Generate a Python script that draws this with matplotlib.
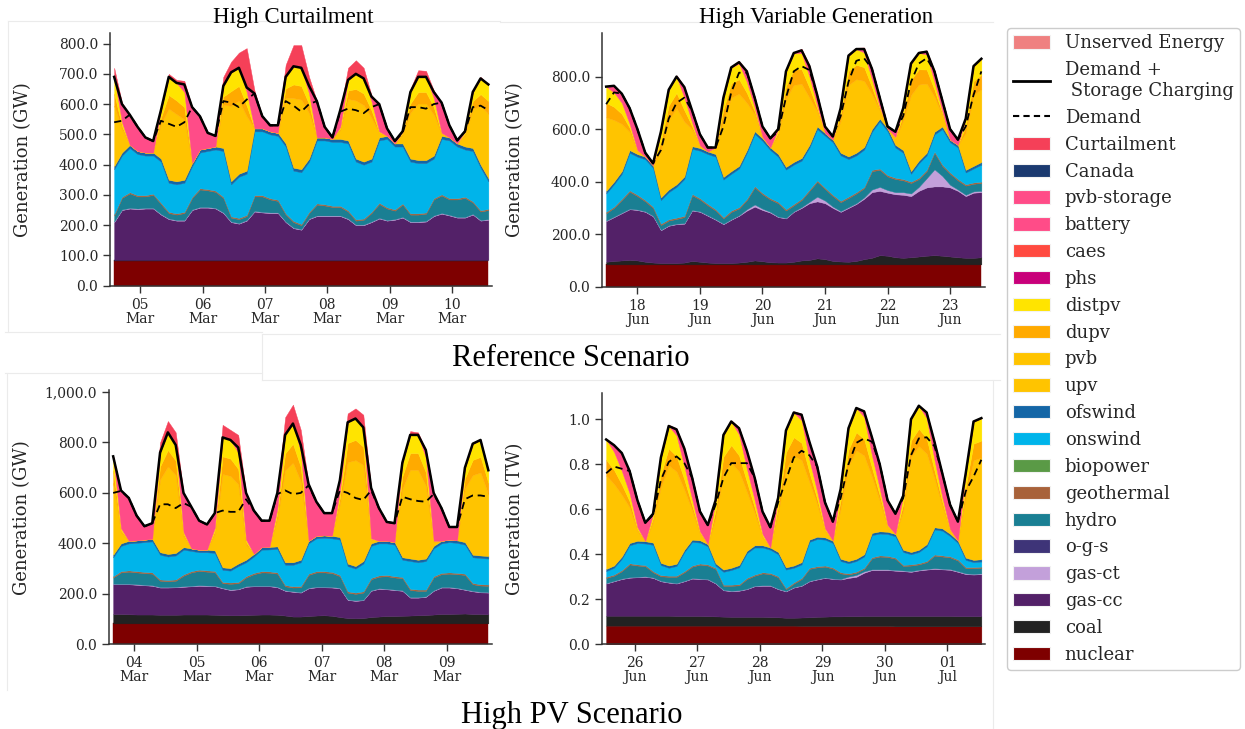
import numpy as np
import pandas as pd
import matplotlib
matplotlib.use('Agg')
import matplotlib.pyplot as plt
import matplotlib.dates as mdates
from matplotlib.patches import Patch
from matplotlib.lines import Line2D
from matplotlib.ticker import FuncFormatter, FixedLocator

# ---------------- data (GW, 3-hourly) ----------------
# Panel 1: Reference Scenario - High Curtailment (starts 04 Mar 14:00)
start_p1 = '2050-03-04 14:00'
nuclear_p1 = [83,83,83,83,83,83,83,83,83,83,83,83,83,83,83,83,83,83,83,83,83,83,83,83,83,83,83,83,83,83,83,83,83,83,83,83,83,83,83,83,83,83,83,83,83,83,83,83,83]
coal_p1 = [2,2,2,2,2,2,2,2,2,2,2,2,2,2,2,2,2,2,2,2,2,2,2,2,2,2,2,2,2,2,2,2,2,2,2,2,2,2,2,2,2,2,2,2,2,2,2,2,2]
gascc_p1 = [125,165,170,168,170,170,150,135,130,130,165,173,173,170,155,125,120,130,160,157,155,155,125,105,100,135,145,145,145,145,135,115,115,125,137,130,133,140,125,125,127,145,153,147,140,140,150,130,133]
gasct_p1 = [2,2,2,2,2,2,2,2,2,2,2,2,2,2,2,2,2,2,2,2,2,2,2,2,2,2,2,2,2,2,2,2,2,2,2,2,2,2,2,2,2,2,2,2,2,2,2,2,2]
hydro_p1 = [20,38,48,40,38,43,33,18,18,23,38,58,55,53,48,13,13,13,48,51,43,38,23,18,13,18,36,33,28,28,23,13,16,28,46,38,28,41,23,23,24,53,58,51,58,63,38,28,30]
geo_p1 = [4,4,4,4,4,4,4,4,4,4,4,4,4,4,4,4,4,4,4,4,4,4,4,4,4,4,4,4,4,4,4,4,4,4,4,4,4,4,4,4,4,4,4,4,4,4,4,4,4]
onswind_p1 = [149,136,146,136,131,126,136,96,96,96,101,118,126,136,151,106,136,136,211,211,211,211,221,166,171,166,208,211,211,211,221,191,178,166,206,226,208,188,171,166,163,131,183,191,171,156,166,141,91]
ofswind_p1 = [10,10,10,10,10,10,10,10,10,10,10,10,10,10,10,10,10,10,10,10,10,10,10,10,10,10,10,10,10,10,10,10,10,10,10,10,10,10,10,10,10,10,10,10,10,10,10,10,10]
upv_p1 = [200,78,0,0,0,0,115,235,222,200,0,0,0,0,142,250,242,180,0,0,0,0,152,230,230,150,0,0,0,30,137,192,187,135,15,0,0,30,152,187,187,135,7,0,0,37,130,193,213]
dupv_p1 = [40,10,0,0,0,0,20,45,45,40,0,0,0,0,28,48,48,35,0,0,0,0,30,45,45,30,0,0,0,5,28,38,38,25,2,0,0,5,30,38,38,25,1,0,0,6,25,40,42]
distpv_p1 = [55,12,0,0,0,0,25,60,58,50,0,0,0,0,35,62,60,45,0,0,0,0,38,60,60,35,0,0,0,5,35,50,50,30,3,0,0,5,38,50,50,30,2,0,0,7,30,52,55]
battery_p1 = [0,60,100,80,50,38,0,0,0,25,185,110,50,35,0,0,0,15,115,40,20,25,0,0,0,25,120,35,5,55,0,0,0,15,90,25,8,0,0,0,0,20,100,40,10,0,0,0,0]
curt_p1 = [30,5,0,0,0,0,0,10,10,12,0,0,0,0,30,35,50,130,10,0,0,0,40,70,75,30,0,0,0,0,40,45,35,5,0,0,0,0,10,22,20,5,0,0,0,0,0,5,0]
demstor_p1 = [690,600,565,525,490,478,580,690,670,665,590,560,505,495,660,705,720,655,635,560,530,530,690,725,720,660,610,525,490,580,680,700,685,625,600,520,478,510,640,690,690,640,605,530,480,510,640,685,665]
demand_p1 = [540,545,565,525,490,478,545,535,525,540,590,560,505,495,610,605,590,615,635,560,530,530,610,595,575,600,610,525,490,575,585,580,570,590,600,520,478,505,590,590,585,600,605,530,480,510,590,595,580]

# Panel 2: Reference Scenario - High Variable Generation (starts 17 Jun 12:00)
start_p2 = '2050-06-17 12:00'
nuclear_p2 = [85,85,85,85,85,85,85,85,85,85,85,85,85,85,85,85,85,85,85,85,85,85,85,85,85,85,85,85,85,85,85,85,85,85,85,85,85,85,85,85,85,85,85,85,85,85,85,85,85]
coal_p2 = [10,13,15,17,15,10,7,5,5,5,7,13,10,7,5,5,5,7,10,15,12,8,7,7,10,15,17,23,20,13,11,10,13,20,25,35,33,27,25,27,30,33,35,33,30,27,25,25,27]
gascc_p2 = [155,167,180,193,192,190,176,125,142,148,148,192,190,178,165,148,165,178,195,205,195,189,173,168,190,200,216,217,213,202,189,205,217,230,250,245,240,240,240,233,250,260,262,264,263,253,235,248,248]
gasct_p2 = [2,2,2,2,2,2,2,2,2,2,2,2,2,2,2,2,2,2,5,8,5,3,2,2,2,3,5,18,10,5,3,3,3,5,10,15,10,8,10,10,15,35,65,40,10,5,5,5,5]
hydro_p2 = [28,33,48,65,51,38,30,18,18,18,23,56,45,38,33,20,28,26,35,65,55,47,51,28,23,27,42,57,44,40,34,35,37,35,70,65,52,50,45,40,30,27,63,38,42,35,35,29,30]
geo_p2 = [5,5,5,5,5,5,5,5,5,5,5,5,5,5,5,5,5,5,5,5,5,5,5,5,5,5,5,5,5,5,5,5,5,5,5,5,5,5,5,5,5,5,5,5,5,5,5,5,5]
onswind_p2 = [70,85,95,143,145,155,147,90,103,117,140,172,181,190,200,143,140,147,175,199,198,183,172,151,150,145,160,195,198,200,173,143,140,142,145,180,167,115,100,30,55,55,65,135,115,120,45,53,65]
ofswind_p2 = [10,10,10,10,10,10,10,10,10,10,10,10,10,10,10,10,10,10,10,10,10,10,10,10,10,10,10,10,10,10,10,10,10,10,10,10,10,10,10,10,10,10,10,10,10,10,10,10,10]
upv_p2 = [280,235,180,70,11,0,0,180,265,290,208,64,8,0,19,215,280,275,180,64,3,0,70,259,294,282,180,57,0,0,121,272,280,252,133,32,0,22,114,290,290,264,133,43,0,0,140,270,278]
dupv_p2 = [55,50,38,15,2,0,0,35,55,58,44,12,1,0,3,42,55,55,38,12,1,0,12,50,58,56,38,11,0,0,24,54,55,52,27,6,0,4,22,58,58,53,27,8,0,0,27,53,55]
distpv_p2 = [62,55,42,15,2,0,0,35,60,62,48,14,1,0,3,45,60,60,42,14,1,0,13,55,63,62,42,12,0,0,25,58,60,56,30,7,0,4,24,62,62,58,30,9,0,0,28,57,60]
battery_p2 = [0,25,35,60,80,15,8,0,0,0,40,45,42,15,0,0,0,5,40,38,40,35,0,0,0,10,40,40,25,12,0,0,0,13,40,35,8,20,0,0,0,10,40,40,40,20,0,0,0]
curt_p2 = [3,3,0,0,0,0,0,0,2,5,3,0,0,0,0,0,3,5,3,0,0,0,0,0,3,6,3,0,0,0,0,2,5,6,3,0,0,0,0,2,5,5,3,0,0,0,0,2,3]
demstor_p2 = [762,765,735,680,600,510,470,590,750,800,760,670,580,530,530,720,835,855,820,720,610,565,600,820,890,900,840,730,610,572,680,880,905,905,830,720,610,590,680,850,890,895,820,710,600,560,640,840,868]
demand_p2 = [695,740,735,680,600,510,470,520,640,700,720,670,580,530,530,610,740,815,815,720,610,565,590,720,820,840,825,730,610,572,650,780,860,870,830,720,610,590,650,780,850,870,820,710,600,560,610,730,820]

# Panel 3: High PV Scenario - High Curtailment (starts 03 Mar 16:00)
start_p3 = '2050-03-03 16:00'
nuclear_p3 = [83,83,83,83,83,83,83,83,83,83,83,83,83,83,83,83,83,83,83,83,83,83,83,83,83,83,83,83,83,83,83,83,83,83,83,83,83,83,83,83,83,83,83,83,83,83,83,83,83]
coal_p3 = [37,37,36,35,35,35,34,34,34,35,35,35,35,34,33,32,32,33,34,35,35,34,31,27,27,29,31,32,30,25,21,20,21,25,27,29,29,30,31,32,33,35,37,37,38,39,37,37,36]
gascc_p3 = [118,118,119,118,116,114,108,108,109,110,112,114,113,113,106,100,103,112,113,112,112,109,98,98,95,110,112,111,112,114,72,69,71,104,110,106,103,99,71,70,72,94,105,105,101,94,90,86,86]
gasct_p3 = [2,2,2,2,2,2,2,2,2,2,2,2,2,2,2,2,2,2,2,2,2,2,2,2,2,2,2,2,2,2,2,2,2,2,2,2,2,2,2,2,2,2,2,2,2,2,2,2,2]
hydro_p3 = [25,45,48,47,46,46,25,23,24,42,53,57,55,54,18,23,22,35,46,53,52,52,16,15,19,51,57,57,55,46,27,26,28,44,46,50,48,48,28,25,22,51,51,53,54,57,26,25,25]
geo_p3 = [5,5,5,5,5,5,5,5,5,5,5,5,5,5,5,5,5,5,5,5,5,5,5,5,5,5,5,5,5,5,5,5,5,5,5,5,5,5,5,5,5,5,5,5,5,5,5,5,5]
onswind_p3 = [75,100,107,112,118,123,98,93,95,98,80,69,72,71,48,47,63,55,65,85,87,93,80,85,94,120,130,132,133,140,100,95,110,127,127,125,125,68,110,108,113,110,117,120,119,115,102,104,103]
ofswind_p3 = [10,10,10,10,10,10,10,10,10,10,10,10,10,10,10,10,10,10,10,10,10,10,10,10,10,10,10,10,10,10,10,10,10,10,10,10,10,10,10,10,10,10,10,10,10,10,10,10,10]
upv_p3 = [285,45,0,0,0,0,288,347,308,44,0,0,0,66,370,365,315,60,0,0,0,110,364,395,310,0,0,0,0,131,402,420,381,14,0,0,0,271,352,356,288,14,0,0,0,213,316,329,244]
dupv_p3 = [50,7,0,0,0,0,52,65,58,8,0,0,0,12,70,69,60,10,0,0,0,20,68,75,58,0,0,0,0,24,76,80,72,3,0,0,0,50,66,67,54,3,0,0,0,40,60,62,46]
distpv_p3 = [55,8,0,0,0,0,55,70,62,8,0,0,0,12,75,74,65,10,0,0,0,20,73,80,62,0,0,0,0,25,82,85,77,3,0,0,0,54,72,72,58,3,0,0,0,42,64,67,50]
battery_p3 = [0,150,170,98,53,62,0,0,0,155,165,115,100,58,0,0,20,185,172,105,104,62,0,0,25,225,135,88,90,45,0,0,0,200,130,75,75,0,0,0,30,190,130,50,53,0,0,0,0]
curt_p3 = [0,0,0,0,0,0,40,45,50,0,0,0,0,0,50,40,50,0,0,0,0,0,70,75,60,0,0,0,0,0,35,40,50,0,0,0,0,0,15,10,0,0,0,0,0,0,0,0,0]
demstor_p3 = [745,610,580,510,468,480,760,840,790,600,545,490,475,520,820,810,780,600,530,490,490,600,830,875,790,635,565,520,520,650,880,895,860,620,540,485,480,720,830,830,770,600,540,465,465,700,795,810,690]
demand_p3 = [600,608,580,510,468,480,555,555,540,560,545,490,475,520,530,525,525,575,530,490,490,595,610,595,600,630,565,520,520,610,600,580,572,610,540,485,480,585,575,568,565,595,540,465,465,575,590,590,585]

# Panel 4: High PV Scenario - High Variable Generation (starts 25 Jun 13:00), GW
start_p4 = '2050-06-25 13:00'
nuclear_p4 = [83,83,83,83,83,83,83,83,83,83,83,83,83,83,83,83,83,83,83,83,83,83,83,83,83,82,82,82,82,82,82,82,82,82,82,82,82,80,80,80,80,80,80,80,80,80,80,80,80]
coal_p4 = [44,44,44,44,44,44,44,44,44,43,43,43,43,42,41,40,39,39,39,39,39,38,37,35,35,37,38,40,41,42,42,43,43,44,44,44,44,46,46,46,46,46,46,46,46,45,45,45,45]
gascc_p4 = [143,153,163,169,171,173,168,153,147,144,154,166,164,163,146,117,114,116,123,136,138,139,125,117,134,141,160,166,172,166,164,170,175,192,204,204,204,201,199,196,202,206,209,207,205,197,187,185,187]
gasct_p4 = [2,2,2,2,2,2,2,2,2,2,2,2,2,2,2,2,2,2,2,2,2,2,2,2,2,2,2,2,2,2,2,6,8,6,3,3,3,3,3,3,3,3,3,3,3,3,3,3,3]
hydro_p4 = [23,23,33,57,50,45,23,20,24,28,38,51,62,60,63,18,22,22,43,45,53,50,51,8,16,28,53,52,48,44,25,9,10,11,49,57,55,50,20,25,24,30,56,54,52,47,23,25,25]
geo_p4 = [5,5,5,5,5,5,5,5,5,5,5,5,5,5,5,5,5,5,5,5,5,5,5,5,5,5,5,5,5,5,5,5,5,5,5,5,5,5,5,5,5,5,5,5,5,5,5,5,5]
onswind_p4 = [25,30,50,80,95,96,117,45,35,43,85,105,93,80,10,57,65,75,110,120,110,103,97,82,65,60,115,121,115,109,50,45,47,50,98,97,97,95,57,45,50,65,111,110,90,73,32,22,23]
ofswind_p4 = [10,10,10,10,10,10,10,10,10,10,10,10,10,10,10,10,10,10,10,10,10,10,10,10,10,10,10,10,10,10,10,10,10,10,10,10,10,10,10,10,10,10,10,10,10,10,10,10,10]
upv_p4 = [415,363,274,158,44,0,93,337,445,410,267,130,29,0,202,430,467,417,263,144,36,0,173,438,488,454,256,144,29,0,223,424,482,439,249,137,21,0,173,424,461,403,216,101,15,0,270,443,452]
dupv_p4 = [70,62,46,27,7,0,15,56,75,68,45,22,5,0,34,72,78,70,44,24,6,0,29,73,82,76,43,24,5,0,37,71,80,73,41,23,4,0,29,71,77,67,36,17,2,0,45,74,75]
distpv_p4 = [90,80,60,35,9,0,20,75,100,92,58,28,6,0,44,96,105,93,58,32,8,0,38,97,110,100,56,32,6,0,50,95,108,98,55,30,5,0,38,95,102,90,48,22,3,0,60,98,100]
battery_p4 = [0,30,80,100,120,82,0,0,0,27,80,95,88,85,0,0,0,28,80,100,100,90,0,0,0,25,80,112,115,85,0,0,0,25,80,108,110,90,0,0,0,25,80,105,110,85,0,0,0]
curt_p4 = [3,3,0,0,0,0,0,2,5,5,3,0,0,0,0,2,5,5,2,0,0,0,0,2,5,5,2,0,0,0,0,2,3,3,2,0,0,0,0,2,3,3,2,0,0,0,0,3,5]
demstor_p4 = [910,885,850,770,640,540,580,830,970,955,870,740,590,530,640,930,990,960,860,740,590,520,650,950,1030,1020,900,790,630,545,690,960,1050,1035,920,800,640,580,660,1000,1060,1030,900,760,620,545,760,990,1005]
demand_p4 = [760,790,780,770,640,540,575,730,810,835,805,740,590,530,620,740,805,805,805,740,590,520,630,730,830,860,840,790,630,545,650,800,895,915,900,800,640,580,650,840,915,920,880,760,620,545,680,745,820]

# ---------------- styling ----------------
COLORS = {
    'Unserved Energy': '#EF8080', 'Curtailment': '#F54058', 'Canada': '#1B3A70',
    'pvb-storage': '#FF4C88', 'battery': '#FF4C88', 'caes': '#FF4A40', 'phs': '#C8007A',
    'distpv': '#FFE400', 'dupv': '#FFAA00', 'pvb': '#FFC400', 'upv': '#FFC400',
    'ofswind': '#1466A6', 'onswind': '#00B4EA', 'biopower': '#5A9A46',
    'geothermal': '#A8623A', 'hydro': '#1A7F93', 'o-g-s': '#3E3478',
    'gas-ct': '#C3A0DA', 'gas-cc': '#532168', 'coal': '#222222', 'nuclear': '#7E0000',
}
STACK = ['nuclear', 'coal', 'gas-cc', 'gas-ct', 'hydro', 'geothermal', 'onswind',
         'ofswind', 'upv', 'dupv', 'distpv', 'battery', 'Curtailment']

panels = [
    dict(start=start_p1, series=[nuclear_p1, coal_p1, gascc_p1, gasct_p1, hydro_p1, geo_p1, onswind_p1,
                                 ofswind_p1, upv_p1, dupv_p1, distpv_p1, battery_p1, curt_p1],
         ds=demstor_p1, d=demand_p1, scale=1.0, ylim=834, yticks=[0,100,200,300,400,500,600,700,800],
         fmt='{:,.1f}', ylabel='Generation (GW)', rect=[110, 492, 285.7, 33.3]),
    dict(start=start_p2, series=[nuclear_p2, coal_p2, gascc_p2, gasct_p2, hydro_p2, geo_p2, onswind_p2,
                                 ofswind_p2, upv_p2, dupv_p2, distpv_p2, battery_p2, curt_p2],
         ds=demstor_p2, d=demand_p2, scale=1.0, ylim=965, yticks=[0,200,400,600,800],
         fmt='{:,.1f}', ylabel='Generation (GW)', rect=[602, 985, 286.7, 33.3]),
    dict(start=start_p3, series=[nuclear_p3, coal_p3, gascc_p3, gasct_p3, hydro_p3, geo_p3, onswind_p3,
                                 ofswind_p3, upv_p3, dupv_p3, distpv_p3, battery_p3, curt_p3],
         ds=demstor_p3, d=demand_p3, scale=1.0, ylim=1008, yticks=[0,200,400,600,800,1000],
         fmt='{:,.1f}', ylabel='Generation (GW)', rect=[109, 492, 644.3, 390]),
    dict(start=start_p4, series=[nuclear_p4, coal_p4, gascc_p4, gasct_p4, hydro_p4, geo_p4, onswind_p4,
                                 ofswind_p4, upv_p4, dupv_p4, distpv_p4, battery_p4, curt_p4],
         ds=demstor_p4, d=demand_p4, scale=0.001, ylim=1.118, yticks=[0,0.2,0.4,0.6,0.8,1.0],
         fmt='{:.1f}', ylabel='Generation (TW)', rect=[602, 985, 644.3, 392.7]),
]

W, H = 1245, 729
fig = plt.figure(figsize=(W/100, H/100), dpi=100)
SERIF = ['DejaVu Serif']
TIMES = ['Liberation Serif', 'DejaVu Serif']
TXT = '#262626'

# faint frame lines of the composed figure pieces (pixel coords)
BORDER = '#ebebeb'
frame_lines = [
    ((8, 21), (500, 21)), ((8, 21), (8, 332)), ((5, 332), (262, 332)),
    ((500, 22), (993, 22)), ((262, 334), (1000, 334)), ((262, 380), (1000, 380)),
    ((262, 334), (262, 380)), ((5, 373), (262, 373)), ((7, 373), (7, 690)),
    ((993, 380), (993, 729)),
]
for (x0, y0), (x1, y1) in frame_lines:
    fig.add_artist(Line2D([x0/W, x1/W], [1-y0/H, 1-y1/H], transform=fig.transFigure,
                          color=BORDER, lw=0.8, zorder=0))

for p in panels:
    l, r, b, t = p['rect']
    ax = fig.add_axes([l/W, 1-b/H, (r-l)/W, (b-t)/H])
    n = len(p['d'])
    times = pd.date_range(p['start'], periods=n, freq='3h')
    layers = [np.asarray(s, dtype=float)*p['scale'] for s in p['series']]
    cols = [COLORS[k] for k in STACK]
    polys = ax.stackplot(times, *layers, colors=cols, linewidth=0)
    for poly, c in zip(polys, cols):
        poly.set_edgecolor(c)
        poly.set_linewidth(0.3)
    ax.plot(times, np.asarray(p['ds'])*p['scale'], color='black', lw=1.8, zorder=5)
    ax.plot(times, np.asarray(p['d'])*p['scale'], color='black', lw=1.3, ls=(0, (4, 2.6)), zorder=6)
    ax.set_xlim(times[0] - pd.Timedelta(hours=1.6), times[-1] + pd.Timedelta(hours=1.4))
    ax.set_ylim(0, p['ylim'])
    ax.yaxis.set_major_locator(FixedLocator(p['yticks']))
    fmt = p['fmt']
    ax.yaxis.set_major_formatter(FuncFormatter(lambda v, pos, f=fmt: f.format(v)))
    ax.xaxis.set_major_locator(mdates.DayLocator())
    ax.xaxis.set_major_formatter(mdates.DateFormatter('%d\n%b'))
    for s in ['top', 'right']:
        ax.spines[s].set_visible(False)
    for s in ['left', 'bottom']:
        ax.spines[s].set_color('#333333')
        ax.spines[s].set_linewidth(1.1)
    ax.tick_params(axis='both', direction='out', length=5, width=1.0, color='#333333',
                   labelcolor=TXT, labelsize=10)
    for lab in ax.get_xticklabels() + ax.get_yticklabels():
        lab.set_fontfamily(SERIF)
    for lab in ax.get_xticklabels():
        lab.set_linespacing(1.0)
    ax.set_ylabel(p['ylabel'], fontsize=13, family=SERIF, color=TXT)
    ax.yaxis.set_label_coords(-0.203, 0.5)
    ax.set_facecolor('white')

# titles
fig.text(293/W, 1-18/H, 'High Curtailment', ha='center', va='center', fontsize=16.5, family=TIMES, color='black')
fig.text(816/W, 1-18/H, 'High Variable Generation', ha='center', va='center', fontsize=16.5, family=TIMES, color='black')
fig.text(571/W, 1-358/H, 'Reference Scenario', ha='center', va='center', fontsize=22, family=TIMES, color='black')
fig.text(572/W, 1-716/H, 'High PV Scenario', ha='center', va='center', fontsize=22, family=TIMES, color='black')

# legend
legend_items = [
    ('Unserved Energy', 'patch'), ('Demand +\n Storage Charging', 'solid'), ('Demand', 'dash'),
    ('Curtailment', 'patch'), ('Canada', 'patch'), ('pvb-storage', 'patch'), ('battery', 'patch'),
    ('caes', 'patch'), ('phs', 'patch'), ('distpv', 'patch'), ('dupv', 'patch'), ('pvb', 'patch'),
    ('upv', 'patch'), ('ofswind', 'patch'), ('onswind', 'patch'), ('biopower', 'patch'),
    ('geothermal', 'patch'), ('hydro', 'patch'), ('o-g-s', 'patch'), ('gas-ct', 'patch'),
    ('gas-cc', 'patch'), ('coal', 'patch'), ('nuclear', 'patch'),
]
handles = []
for name, kind in legend_items:
    if kind == 'patch':
        handles.append(Patch(facecolor=COLORS[name], edgecolor='#f2f2f2', linewidth=0.8))
    elif kind == 'solid':
        handles.append(Line2D([0], [0], color='black', lw=2))
    else:
        handles.append(Line2D([0], [0], color='black', lw=1.5, ls=(0, (3, 2))))
leg = fig.legend(handles, [n for n, _ in legend_items], loc='upper left',
                 bbox_to_anchor=(1007/W, 1-28/H), prop={'family': SERIF, 'size': 13},
                 frameon=True, fancybox=True, framealpha=1, edgecolor='#cccccc',
                 handlelength=2.05, handleheight=0.75, handletextpad=0.8,
                 labelspacing=0.49, borderpad=0.35, borderaxespad=0)
for txt in leg.get_texts():
    txt.set_color(TXT)

fig.savefig('out.png', dpi=100, facecolor='white')
